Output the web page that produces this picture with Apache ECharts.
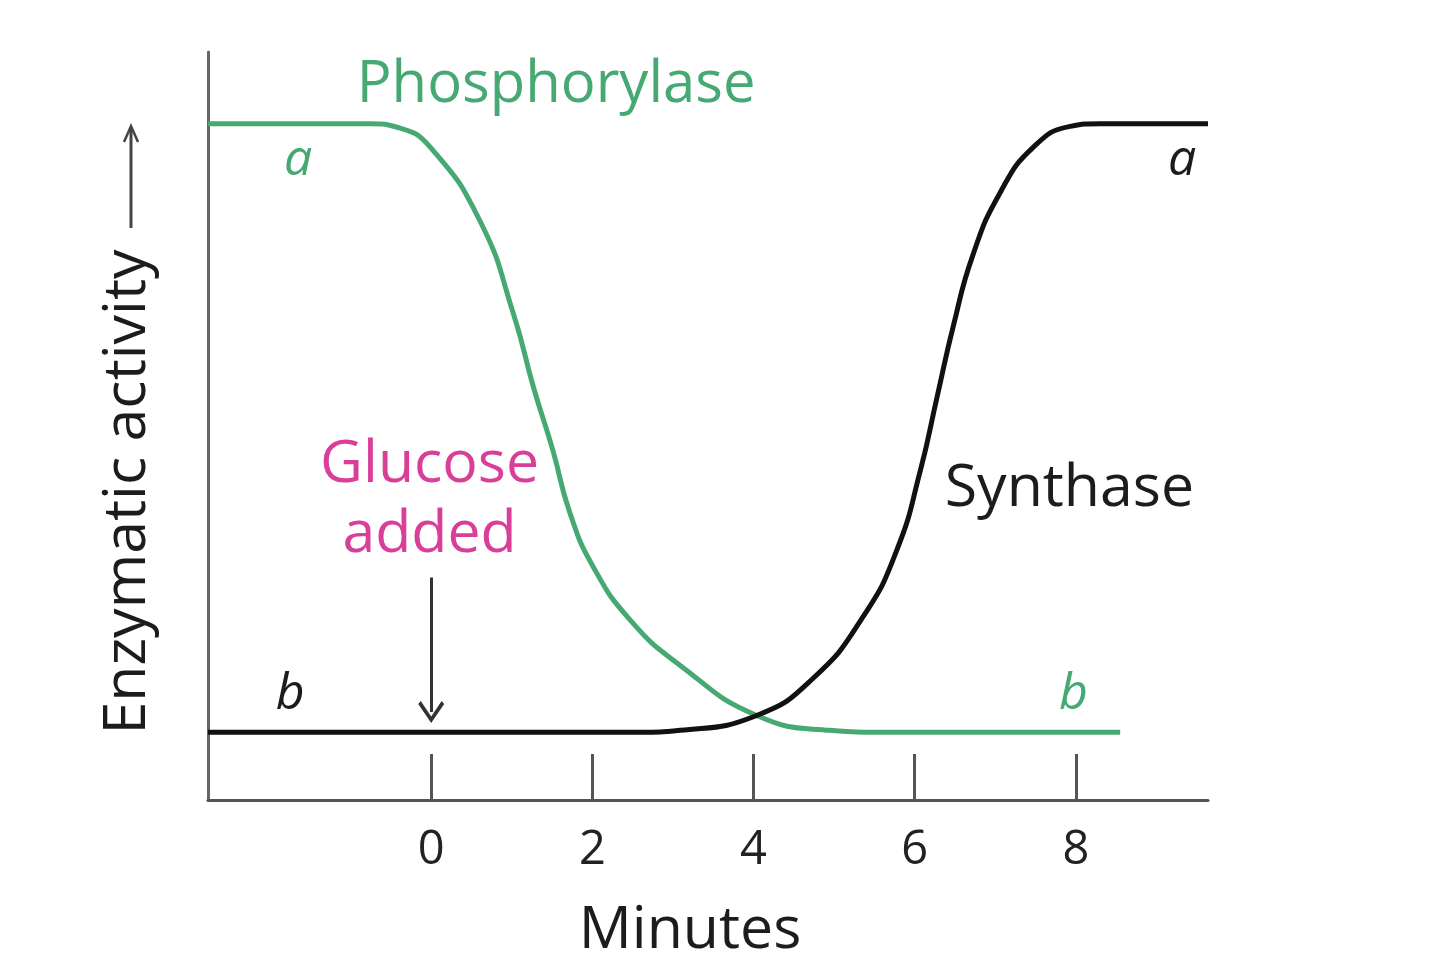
<!DOCTYPE html>
<html>
<head>
<meta charset="utf-8">
<script src="https://cdn.jsdelivr.net/npm/echarts@6/dist/echarts.min.js"></script>
<style>
html,body{margin:0;padding:0;background:#fff;}
#chart{width:1440px;height:976px;}
</style>
</head>
<body>
<div id="chart"></div>
<script>
// ---- data ----
const xTicks = [0, 2, 4, 6, 8];
const phosX = [-2.77, -0.76, -0.4, -0.01, 0.61, 1.02, 1.27, 1.51, 1.72, 2.01, 2.47, 3.09, 4.04, 4.95, 5.6, 8.55];
const phosY = [100, 100, 99.4, 96.5, 85.5, 71.9, 61.0, 51.7, 42.5, 34.5, 26.6, 19.9, 12.5, 10.3, 10, 10];
const synX = [-2.77, 2.59, 3.09, 4.04, 4.74, 5.36, 5.78, 6.07, 6.28, 6.48, 6.72, 7.06, 7.47, 7.93, 8.30, 9.64];
const synY = [10, 10, 10.3, 12.5, 18.0, 27.1, 37.0, 48.7, 59.7, 70.1, 80.5, 89.8, 96.5, 99.6, 100, 100];
const annotTexts = ['Phosphorylase', 'a', 'b', 'Synthase', 'a', 'b', 'Glucose\nadded'];
const annotX = [1.55, -1.65, 7.97, 7.92, 9.32, -1.75, -0.02];
const annotY = [105.6, 94.5, 15.6, 45.9, 94.5, 15.6, 44.4];
const glucoseArrow = [[0, 32.9], [0, 13.0]];
const xName = 'Minutes';
const yName = 'Enzymatic activity';

// ---- styles ----
const GREEN = '#46a872';
const BLACK = '#111111';
const PINK = '#d93f99';
const TEXT = '#1c1c1c';
const FONT = '"Open Sans", "Lato", sans-serif';
const annotStyle = [
  {color: GREEN, fontSize: 58, fontStyle: 'normal'},
  {color: GREEN, fontSize: 50, fontStyle: 'italic'},
  {color: GREEN, fontSize: 50, fontStyle: 'italic'},
  {color: TEXT, fontSize: 59, fontStyle: 'normal'},
  {color: TEXT, fontSize: 50, fontStyle: 'italic'},
  {color: TEXT, fontSize: 50, fontStyle: 'italic'},
  {color: PINK, fontSize: 59, fontStyle: 'normal', lineHeight: 70}
];

const zip = (xs, ys) => xs.map((x, i) => [x, ys[i]]);

const chart = echarts.init(document.getElementById('chart'), null, {renderer: 'canvas'});
const option = {
  backgroundColor: '#ffffff',
  animation: false,
  textStyle: {fontFamily: FONT},
  grid: {left: 208, right: 232, top: 52, bottom: 176, containLabel: false},
  xAxis: {
    type: 'value', min: -2.77, max: 9.64,
    name: xName, nameLocation: 'middle', nameGap: 102,
    nameTextStyle: {fontSize: 59, color: TEXT, fontFamily: FONT, padding: [0, 36, 0, 0]},
    axisLine: {show: true, onZero: false, lineStyle: {color: '#555555', width: 3}},
    axisTick: {show: true, inside: true, length: 46, customValues: xTicks, lineStyle: {color: '#555555', width: 3}},
    axisLabel: {show: true, customValues: xTicks, fontSize: 47, color: '#222222', margin: 27, fontFamily: FONT},
    splitLine: {show: false}
  },
  yAxis: {
    type: 'value', min: 0, max: 110.6,
    axisLine: {show: true, onZero: false, lineStyle: {color: '#666666', width: 3}},
    axisTick: {show: false}, axisLabel: {show: false}, splitLine: {show: false}
  },
  series: [
    {
      name: 'Phosphorylase', type: 'line', data: zip(phosX, phosY),
      smooth: 0.5, showSymbol: false, symbol: 'none',
      lineStyle: {color: GREEN, width: 5}, z: 3
    },
    {
      name: 'Synthase', type: 'line', data: zip(synX, synY),
      smooth: 0.5, showSymbol: false, symbol: 'none',
      lineStyle: {color: BLACK, width: 5}, z: 4,
      markLine: {
        silent: true, animation: false,
        symbol: ['none', 'path://M10,0 L20,13 L18,15 L10,4.5 L2,15 L0,13 Z'],
        symbolSize: [26, 22],
        label: {show: false},
        lineStyle: {color: '#333333', width: 3, type: 'solid', opacity: 1},
        emphasis: {disabled: true},
        data: [[{coord: glucoseArrow[0]}, {coord: glucoseArrow[1]}]]
      }
    },
    {
      name: 'labels', type: 'scatter', symbolSize: 0, silent: true, z: 5,
      itemStyle: {opacity: 1},
      data: annotTexts.map((t, i) => ({
        value: [annotX[i], annotY[i]], name: t,
        itemStyle: {opacity: 1},
        label: Object.assign({show: true, opacity: 1, position: 'inside', formatter: t, fontFamily: FONT, align: 'center', verticalAlign: 'middle'}, annotStyle[i])
      }))
    }
  ],
  graphic: [
    {
      type: 'text', x: 128, y: 492, rotation: Math.PI / 2,
      style: {text: yName, font: '59px ' + FONT, fill: TEXT, textAlign: 'center', textVerticalAlign: 'middle'}
    },
    {
      type: 'line', shape: {x1: 131, y1: 228, x2: 131, y2: 128},
      style: {stroke: '#444444', lineWidth: 3}
    },
    {
      type: 'polyline', shape: {points: [[124, 142], [131, 126], [138, 142]]},
      style: {stroke: '#444444', lineWidth: 2.5, fill: null}
    }
  ]
};
chart.setOption(option);
</script>
</body>
</html>
